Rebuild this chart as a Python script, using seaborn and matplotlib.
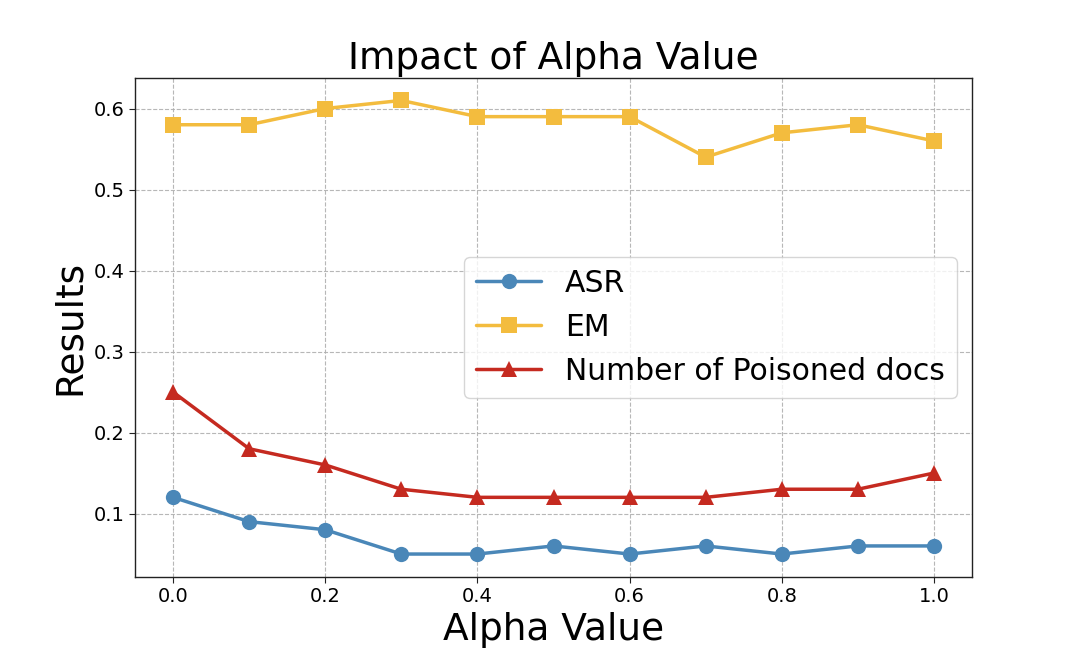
import pandas as pd
import matplotlib.pyplot as plt
import seaborn as sns

alpha = [0.0, 0.1, 0.2, 0.3, 0.4, 0.5, 0.6, 0.7, 0.8, 0.9, 1.0]
asr = [0.12, 0.09, 0.08, 0.05, 0.05, 0.06, 0.05, 0.06, 0.05, 0.06, 0.06]
em = [0.58, 0.58, 0.60, 0.61, 0.59, 0.59, 0.59, 0.54, 0.57, 0.58, 0.56]
poisoned = [0.25, 0.18, 0.16, 0.13, 0.12, 0.12, 0.12, 0.12, 0.13, 0.13, 0.15]

series_names = ['ASR', 'EM', 'Number of Poisoned docs']
colors = ['#4a87b8', '#f3bc3e', '#c52a20']
markers = ['o', 's', '^']

df = pd.DataFrame({
    'alpha': alpha * 3,
    'value': asr + em + poisoned,
    'metric': [series_names[0]] * len(alpha) + [series_names[1]] * len(alpha) + [series_names[2]] * len(alpha),
})

sns.set_style('white')
plt.rcParams['font.family'] = ['DejaVu Sans']
plt.rcParams['text.color'] = 'black'
plt.rcParams['axes.labelcolor'] = 'black'
plt.rcParams['xtick.color'] = 'black'
plt.rcParams['ytick.color'] = 'black'

fig, ax = plt.subplots(figsize=(10.8, 6.48), dpi=100)
sns.lineplot(data=df, x='alpha', y='value', hue='metric', style='metric',
             palette=colors, markers=markers, dashes=False, linewidth=2.5,
             markersize=11, markeredgewidth=0, ax=ax)

ax.grid(True, linestyle='--', color='#b0b0b0', linewidth=0.8, alpha=0.9)
for s in ax.spines.values():
    s.set_color('#222222')
    s.set_linewidth(1.0)
ax.tick_params(axis='both', labelsize=14, length=4, color='#222222', direction='out',
               bottom=True, left=True)
ax.set_xticks([0.0, 0.2, 0.4, 0.6, 0.8, 1.0])
ax.set_yticks([0.1, 0.2, 0.3, 0.4, 0.5, 0.6])
ax.set_title('Impact of Alpha Value', fontsize=27)
ax.set_xlabel('Alpha Value', fontsize=27)
ax.set_ylabel('Results', fontsize=27)
ax.legend(title=None, fontsize=21.5, loc='center right', frameon=True,
          handlelength=2.2)

plt.savefig('out.png', dpi=100)
plt.close()
